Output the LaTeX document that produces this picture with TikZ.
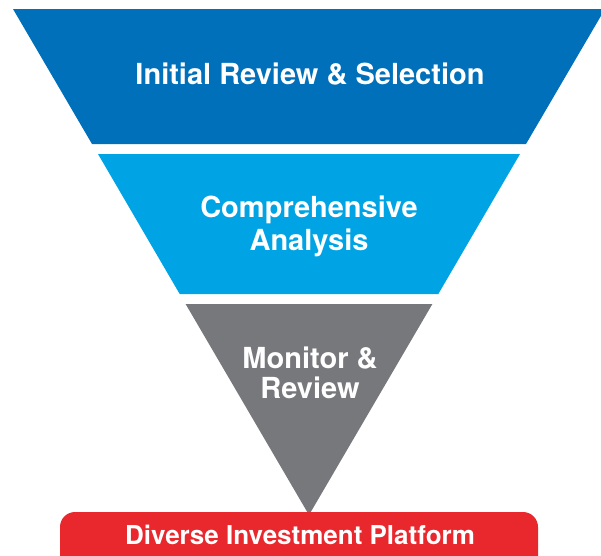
\documentclass[tikz,border=0pt]{standalone}
\usepackage{fontspec}
\setmainfont{TeX Gyre Heros}
\definecolor{darkblue}{RGB}{0,112,186}
\definecolor{lightblue}{RGB}{0,164,228}
\definecolor{funnelgray}{RGB}{119,120,123}
\definecolor{platformred}{RGB}{233,40,46}
\begin{document}
\begin{tikzpicture}[x=1pt,y=-1pt,
  stagetext/.style={text=white,font=\fontsize{29}{33}\selectfont\bfseries,align=center,inner sep=0pt},
  platformtext/.style={text=white,font=\fontsize{26}{30}\selectfont\bfseries,inner sep=0pt}]
\useasboundingbox (0,0) rectangle (601,555);
\clip (0,0) rectangle (601,555);
% funnel stages
\fill[darkblue] (13,9) -- (605,9) -- (526,144) -- (92,144) -- cycle;
\fill[lightblue] (98,154) -- (520,154) -- (438.3,294) -- (179.7,294) -- cycle;
\fill[funnelgray] (185.6,304) -- (432.4,304) -- (309,515) -- cycle;
% platform bar
\fill[platformred, rounded corners=15pt] (60,512) rectangle (538,575);
% texts
\node[stagetext, anchor=base] (t1) at (310,84) {Initial Review \& Selection};
\node[stagetext, anchor=center] (t2) at (309,226) {Comprehensive\\Analysis};
\node[stagetext, font=\fontsize{29}{30}\selectfont\bfseries, anchor=center] (t3) at (310,373) {Monitor \&\\Review};
\node[platformtext, anchor=base] (t4) at (300,544) {Diverse Investment Platform};
\end{tikzpicture}
\end{document}
